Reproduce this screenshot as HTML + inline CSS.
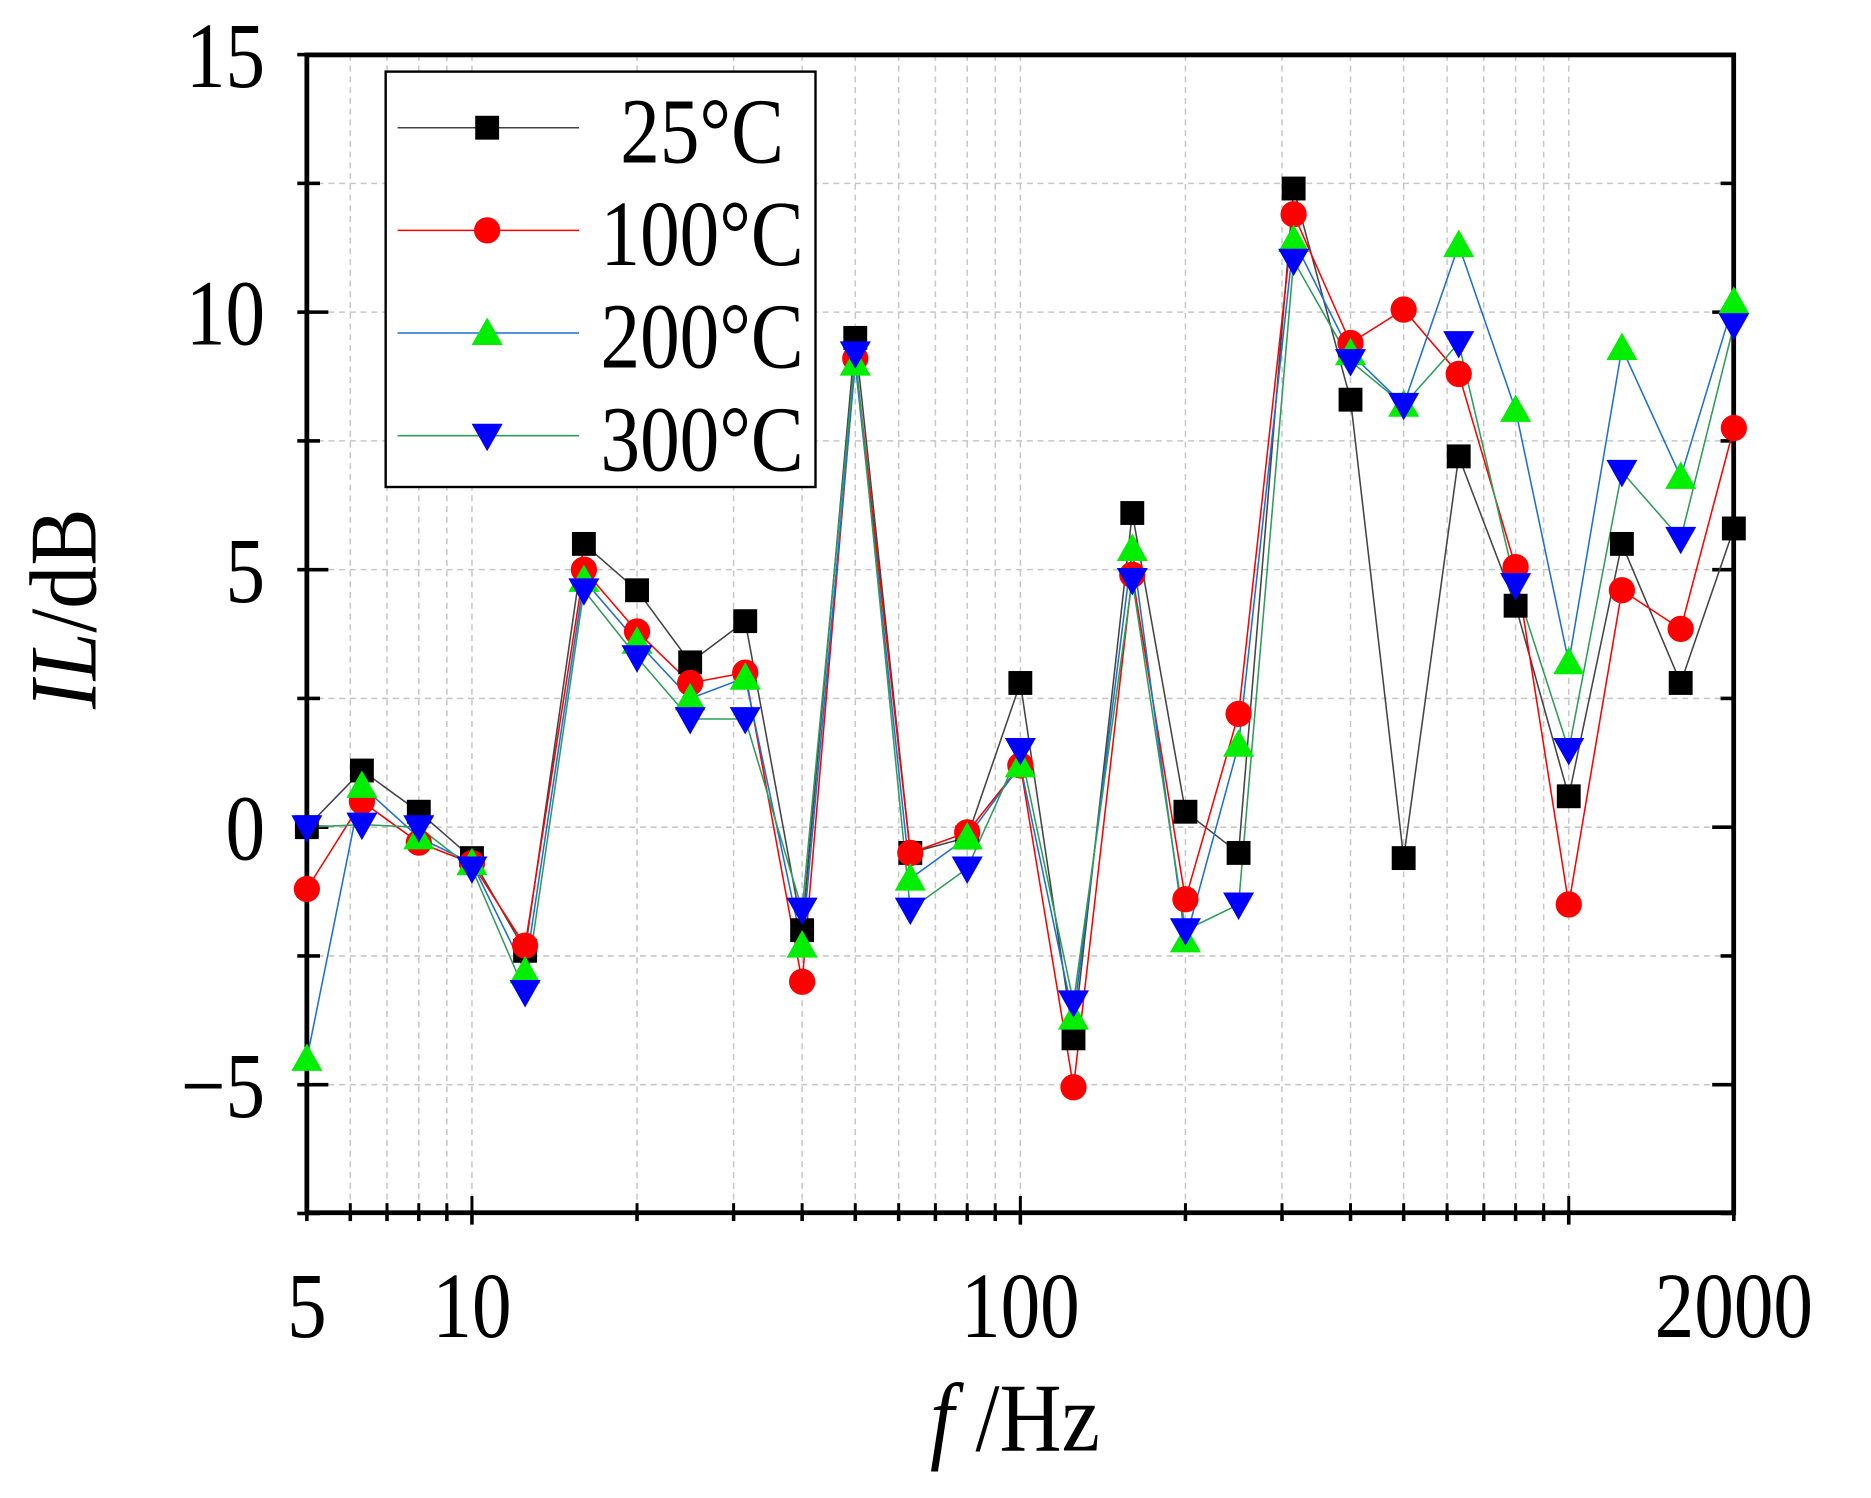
<!DOCTYPE html>
<html><head><meta charset="utf-8"><style>
html,body{margin:0;padding:0;background:#fff;}
svg{display:block;}
</style></head><body>
<svg id="c" width="1871" height="1498" viewBox="0 0 1567 1255" preserveAspectRatio="none" xmlns="http://www.w3.org/2000/svg" font-family="'Liberation Serif', serif"></svg>
<script>
const s=document.getElementById('c');
const L=257,R=1452,T=46,B=1016;
const X=f=>L+459.3*Math.log10(f/5);
const Y=v=>693-43.15*v;
let h='';
function tx(x,y,t,fs,anc,sx){return `<text transform="translate(${x},${y}) scale(${sx},1)" font-size="${fs}" text-anchor="${anc}">${t}</text>`;}
for(let d=1;d<=1000;d*=10){for(let m=1;m<10;m++){const f=d*m;if(f<=5||f>=2000)continue;
h+=`<line x1="${X(f)}" y1="${T}" x2="${X(f)}" y2="${B}" stroke="#c8c8c8" stroke-width="1.3" stroke-dasharray="5,4"/>`;}}
for(let v=-5;v<=12.5;v+=2.5){h+=`<line x1="${L}" y1="${Y(v)}" x2="${R}" y2="${Y(v)}" stroke="#c8c8c8" stroke-width="1.3" stroke-dasharray="5,4"/>`;}
for(let v=-7.5;v<=15;v+=2.5){const big=(v%5===0);const l=big?18:11;
h+=`<line x1="${L}" y1="${Y(v)}" x2="${L+l}" y2="${Y(v)}" stroke="#000" stroke-width="3"/>`;
h+=`<line x1="${R}" y1="${Y(v)}" x2="${R-l}" y2="${Y(v)}" stroke="#000" stroke-width="3"/>`;
h+=`<line x1="${L}" y1="${Y(v)}" x2="${L-8}" y2="${Y(v)}" stroke="#000" stroke-width="3"/>`;}
for(let d=1;d<=1000;d*=10){for(let m=1;m<10;m++){const f=d*m;if(f<5||f>2000)continue;const big=(m===1);
h+=`<line x1="${X(f)}" y1="${B}" x2="${X(f)}" y2="${B+(big?10:7)}" stroke="#000" stroke-width="3"/>`;
h+=`<line x1="${X(f)}" y1="${B}" x2="${X(f)}" y2="${B-(big?14:8)}" stroke="#000" stroke-width="2.5"/>`;}}
h+=`<rect x="${L}" y="${T}" width="${R-L}" height="${B-T}" fill="none" stroke="#000" stroke-width="4"/>`;
[[15,'15'],[10,'10'],[5,'5'],[0,'0'],[-5,'\u22125']].forEach(([v,t])=>{h+=tx(222,Y(v)+27,t,78,'end',0.85);});
[[5,'5'],[10,'10'],[100,'100'],[2000,'2000']].forEach(([f,t])=>{h+=tx(X(f),1120,t,78,'middle',0.85);});
h+=`<text transform="translate(850,1215) scale(0.88,1)" font-size="82" text-anchor="middle"><tspan font-style="italic">f</tspan> /Hz</text>`;
h+=`<text transform="translate(80,510) rotate(-90) scale(0.9,1)" font-size="80" text-anchor="middle"><tspan font-style="italic">IL</tspan>/dB</text>`;
const F=[5,6.3,8,10,12.5,16,20,25,31.5,40,50,63,80,100,125,160,200,250,315,400,500,630,800,1000,1250,1600,2000];
const S=[
{c:'#000',lc:'#444',m:'sq',d:[0,1.1,0.3,-0.6,-2.4,5.5,4.6,3.2,4.0,-2.0,9.5,-0.5,-0.2,2.8,-4.1,6.1,0.3,-0.5,12.4,8.3,-0.6,7.2,4.3,0.6,5.5,2.8,5.8]},
{c:'#ff0000',lc:'#ff0000',m:'ci',d:[-1.2,0.5,-0.3,-0.7,-2.3,5.0,3.8,2.8,3.0,-3.0,9.1,-0.5,-0.1,1.2,-5.05,4.9,-1.4,2.2,11.9,9.4,10.05,8.8,5.05,-1.5,4.6,3.85,7.75]},
{c:'#00ee00',lc:'#1f6fd0',m:'up',d:[-4.5,0.8,-0.2,-0.7,-2.8,4.8,3.6,2.5,2.9,-2.3,9.0,-1.0,-0.2,1.2,-3.7,5.4,-2.2,1.6,11.4,9.2,8.2,11.3,8.1,3.2,9.3,6.8,10.2]},
{c:'#0000ff',lc:'#2e9c5a',m:'dn',d:[0,0.05,0,-0.8,-3.2,4.6,3.3,2.1,2.1,-1.6,9.2,-1.6,-0.8,1.5,-3.4,4.8,-2.0,-1.5,11.0,9.05,8.2,9.4,4.7,1.5,6.9,5.6,9.75]}];
function mk(m,x,y,c){
 if(m==='sq')return `<rect x="${x-10}" y="${y-10}" width="20" height="20" fill="${c}"/>`;
 if(m==='ci')return `<circle cx="${x}" cy="${y}" r="11" fill="${c}"/>`;
 if(m==='up')return `<polygon points="${x},${y-13} ${x-13},${y+10} ${x+13},${y+10}" fill="${c}"/>`;
 return `<polygon points="${x},${y+13} ${x-13},${y-10} ${x+13},${y-10}" fill="${c}"/>`;}
S.forEach(sr=>{const p=sr.d.map((v,i)=>X(F[i])+','+Y(v)).join(' ');
 h+=`<polyline points="${p}" fill="none" stroke="${sr.lc}" stroke-width="1.3"/>`;});
S.forEach(sr=>{sr.d.forEach((v,i)=>{h+=mk(sr.m,X(F[i]),Y(v),sr.c);});});
h+=`<rect x="323" y="60" width="360" height="348" fill="#fff" stroke="#000" stroke-width="2"/>`;
const labs=['25\u00B0C','100\u00B0C','200\u00B0C','300\u00B0C'];
S.forEach((sr,i)=>{const y=107+i*86;
 h+=`<line x1="333" y1="${y}" x2="485" y2="${y}" stroke="${sr.lc}" stroke-width="1.3"/>`+mk(sr.m,408,y,sr.c);
 h+=tx(588,y+29,labs[i],78,'middle',0.85);});
s.innerHTML=h;
</script>
</body></html>
